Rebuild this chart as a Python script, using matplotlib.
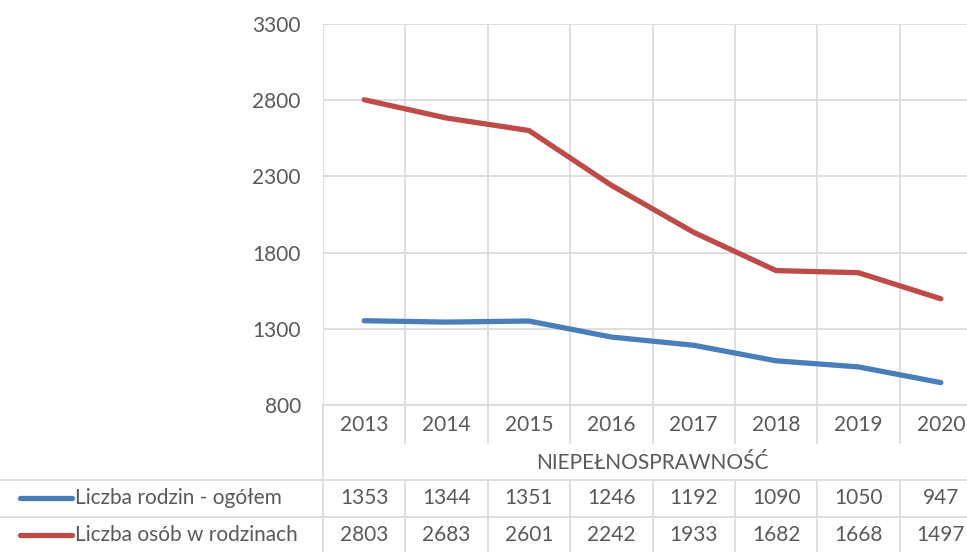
import matplotlib.pyplot as plt
from matplotlib.transforms import blended_transform_factory
from matplotlib.lines import Line2D

years = ['2013', '2014', '2015', '2016', '2017', '2018', '2019', '2020']
rodziny = [1353, 1344, 1351, 1246, 1192, 1090, 1050, 947]
osoby = [2803, 2683, 2601, 2242, 1933, 1682, 1668, 1497]
series_names = ['Liczba rodzin - ogółem', 'Liczba osób w rodzinach']
group_label = 'NIEPEŁNOSPRAWNOŚĆ'
yticks = [800, 1300, 1800, 2300, 2800, 3300]

txt = '#595959'
grid = '#d9d9d9'
colors = ['#4a7ebb', '#be4b48']
plt.rcParams['font.family'] = ['Lato', 'DejaVu Sans']
fs = 15

W, H = 967, 552
fig = plt.figure(figsize=(W / 100, H / 100), dpi=100)
# axes extends a bit past the right edge, as in the reference
left, right, top, bottom = 323, 982, 24, 405
ax = fig.add_axes([left / W, 1 - bottom / H, (right - left) / W, (bottom - top) / H])

x = list(range(len(years)))
for vals, c in zip([rodziny, osoby], colors):
    ax.plot(x, vals, color=c, lw=3.8, solid_capstyle='round', zorder=3)

ax.set_xlim(-0.5, len(years) - 0.5)
ax.set_ylim(800, 3300)
ax.set_yticks(yticks)
ax.set_yticklabels([str(v) for v in yticks], fontsize=fs, color=txt)
ax.tick_params(axis='y', length=0, pad=16)
ax.set_xticks([])
for i in range(len(years) + 1):
    ax.axvline(i - 0.5, color=grid, lw=1.2, zorder=1)
for v in yticks:
    ax.axhline(v, color=grid, lw=1.2, zorder=1)
for s in ax.spines.values():
    s.set_visible(False)

# data table below the plot
fig_tr = fig.transFigure
bt = blended_transform_factory(ax.transData, fig_tr)

def fy(py):
    return 1 - py / H

row_year, row_group, row1, row2 = 405, 443, 480, 517
end = 552
gl = dict(color=grid, lw=1.2, clip_on=False)
for i in range(len(years) + 1):
    xi = i - 0.5
    if i == 0:
        fig.add_artist(Line2D([xi, xi], [fy(row_year), fy(end)], transform=bt, **gl))
    else:
        fig.add_artist(Line2D([xi, xi], [fy(row_year), fy(row_group)], transform=bt, **gl))
        fig.add_artist(Line2D([xi, xi], [fy(row1), fy(end)], transform=bt, **gl))
for py in [row1, row2]:
    fig.add_artist(Line2D([0, 1], [fy(py), fy(py)], transform=fig_tr, **gl))
fig.add_artist(Line2D([left / W, 1], [fy(row_year), fy(row_year)], transform=fig_tr, **gl))

for i, yr in enumerate(years):
    fig.text(i, fy(425), yr, transform=bt, ha='center', va='center', fontsize=fs, color=txt)
fig.text(652 / W, fy(463), group_label, ha='center', va='center',
         fontsize=fs, color=txt)

for r, (name, vals, c) in enumerate(zip(series_names, [rodziny, osoby], colors)):
    yc = fy(498 + r * 37)
    fig.add_artist(Line2D([20 / W, 72 / W], [yc, yc], transform=fig_tr, color=c, lw=3.8,
                          solid_capstyle='round'))
    fig.text(75 / W, yc, name, ha='left', va='center', fontsize=fs, color=txt)
    for i, v in enumerate(vals):
        fig.text(i, yc, str(v), transform=bt, ha='center', va='center', fontsize=fs, color=txt)

fig.savefig('out.png', dpi=100)
